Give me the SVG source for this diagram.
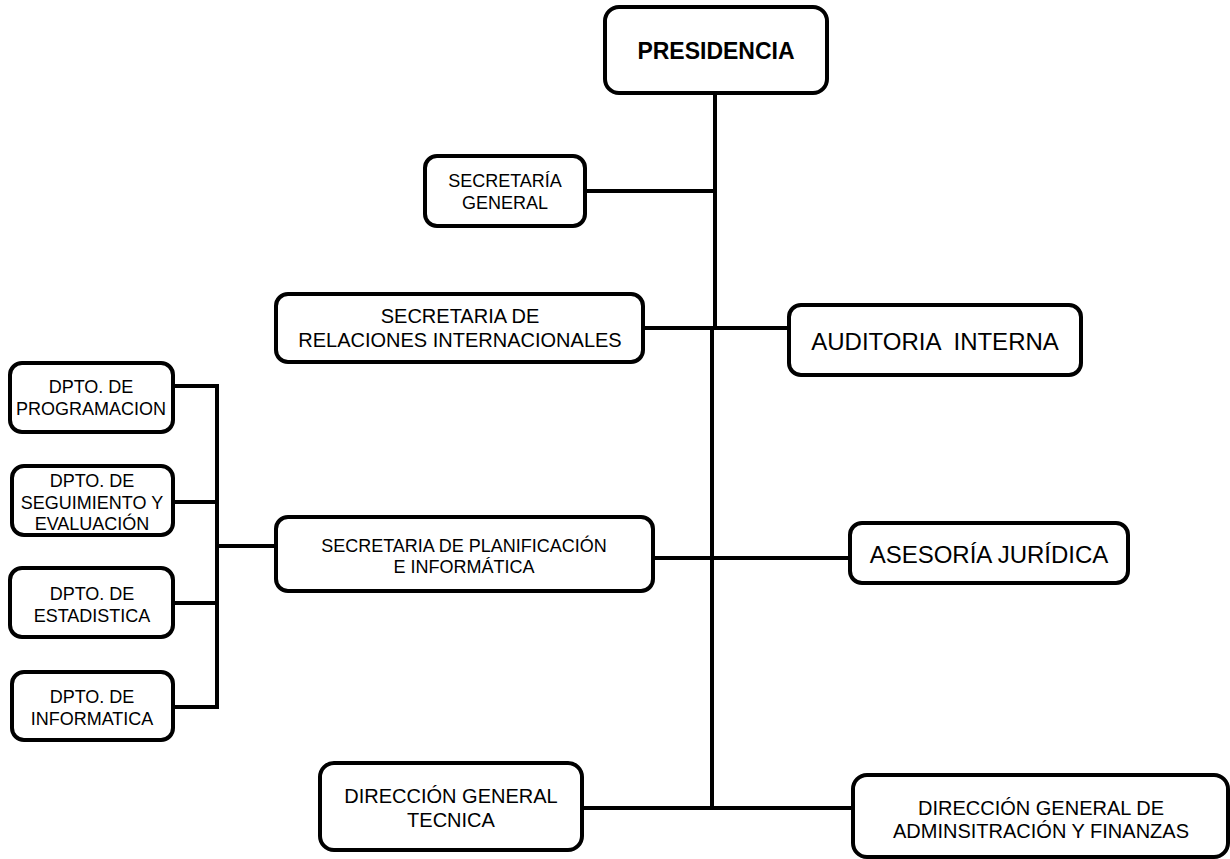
<svg xmlns="http://www.w3.org/2000/svg" width="1230" height="859" viewBox="0 0 1230 859">
<style>
.box{fill:#fff;stroke:#000;stroke-width:4}
.ln{stroke:#000;stroke-width:4;fill:none}
text{font-family:"Liberation Sans",Arial,sans-serif;fill:#000;text-anchor:middle}
.t18{font-size:18px}
.t20{font-size:20px}
.t24{font-size:24px}
</style>
<rect width="1230" height="859" fill="#fff"/>
<g id="connectors">
<line class="ln" x1="715" y1="91" x2="715" y2="330"/>
<line class="ln" x1="712" y1="326" x2="712" y2="810"/>
<line class="ln" x1="585" y1="191" x2="713" y2="191"/>
<line class="ln" x1="643" y1="328" x2="790" y2="328"/>
<line class="ln" x1="653" y1="558" x2="850" y2="558"/>
<line class="ln" x1="582" y1="808" x2="855" y2="808"/>
<line class="ln" x1="217" y1="384" x2="217" y2="709"/>
<line class="ln" x1="173" y1="386" x2="219" y2="386"/>
<line class="ln" x1="173" y1="502" x2="219" y2="502"/>
<line class="ln" x1="173" y1="603" x2="219" y2="603"/>
<line class="ln" x1="173" y1="707" x2="219" y2="707"/>
<line class="ln" x1="217" y1="546" x2="276" y2="546"/>
</g>
<g id="presidencia">
<rect class="box" x="605" y="7" width="222" height="86" rx="14"/>
<text x="716" y="59" font-size="23" font-weight="bold">PRESIDENCIA</text>
</g>
<g id="secretaria-general">
<rect class="box" x="425" y="156" width="160" height="70" rx="12"/>
<text class="t18" x="505" y="187">SECRETARÍA</text>
<text class="t18" x="505" y="209">GENERAL</text>
</g>
<g id="relaciones">
<rect class="box" x="276" y="294" width="367" height="68" rx="12"/>
<text class="t20" x="460" y="323">SECRETARIA DE</text>
<text class="t20" x="460" y="347">RELACIONES INTERNACIONALES</text>
</g>
<g id="auditoria">
<rect class="box" x="789" y="305" width="292" height="70" rx="12"/>
<text class="t24" x="935" y="350" xml:space="preserve">AUDITORIA  INTERNA</text>
</g>
<g id="planificacion">
<rect class="box" x="276" y="517" width="377" height="74" rx="12"/>
<text class="t18" x="464" y="552">SECRETARIA DE PLANIFICACIÓN</text>
<text class="t18" x="464" y="573">E INFORMÁTICA</text>
</g>
<g id="asesoria">
<rect class="box" x="850" y="523" width="278" height="60" rx="12"/>
<text class="t24" x="989" y="563">ASESORÍA JURÍDICA</text>
</g>
<g id="dpto-programacion">
<rect class="box" x="10" y="363" width="163" height="69" rx="12"/>
<text class="t18" x="91" y="393">DPTO. DE</text>
<text class="t18" x="91" y="415">PROGRAMACION</text>
</g>
<g id="dpto-seguimiento">
<rect class="box" x="12" y="466" width="161" height="69" rx="12"/>
<text class="t18" x="92" y="487">DPTO. DE</text>
<text class="t18" x="92" y="509">SEGUIMIENTO Y</text>
<text class="t18" x="92" y="530">EVALUACIÓN</text>
</g>
<g id="dpto-estadistica">
<rect class="box" x="10" y="568" width="163" height="69" rx="12"/>
<text class="t18" x="92" y="600">DPTO. DE</text>
<text class="t18" x="92" y="622">ESTADISTICA</text>
</g>
<g id="dpto-informatica">
<rect class="box" x="12" y="672" width="161" height="68" rx="12"/>
<text class="t18" x="92" y="703">DPTO. DE</text>
<text class="t18" x="92" y="725">INFORMATICA</text>
</g>
<g id="direccion-tecnica">
<rect class="box" x="320" y="763" width="262" height="87" rx="14"/>
<text class="t20" x="451" y="803">DIRECCIÓN GENERAL</text>
<text class="t20" x="451" y="827">TECNICA</text>
</g>
<g id="direccion-administracion">
<rect class="box" x="853" y="775" width="375" height="82" rx="14"/>
<text class="t20" x="1041" y="815">DIRECCIÓN GENERAL DE</text>
<text class="t20" x="1041" y="838">ADMINSITRACIÓN Y FINANZAS</text>
</g>
</svg>
